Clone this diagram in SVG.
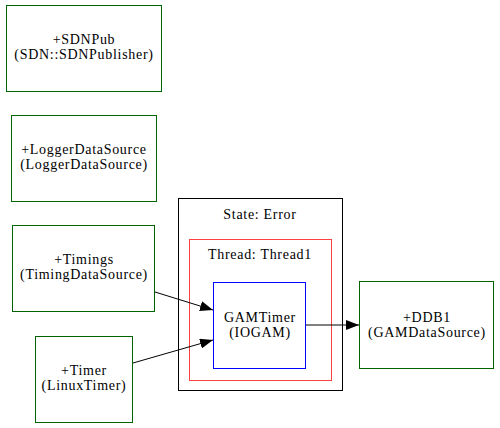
<svg xmlns="http://www.w3.org/2000/svg" width="500" height="428" viewBox="0 0 500 428">
<defs>
<marker id="ah" markerWidth="13" markerHeight="10" refX="13" refY="5" orient="auto" markerUnits="userSpaceOnUse" viewBox="0 0 13 10">
<polygon points="0,0 13,5 0,10" fill="#000"/>
</marker>
</defs>
<style>
.n{fill:none;stroke:#006400;stroke-width:1}
.c{fill:none;stroke-width:1}
.e{fill:none;stroke:#000;stroke-width:1;marker-end:url(#ah)}
</style>
<rect width="500" height="428" fill="#fff"/>
<g font-family="Liberation Serif, Times New Roman, serif" font-size="14" text-anchor="middle" fill="#000" letter-spacing="0.7">
<g id="state">
<rect class="c" x="178.5" y="198.5" width="164" height="192" stroke="#000"/>
<text x="260" y="219">State: Error</text>
</g>
<g id="thread">
<rect class="c" x="189.5" y="239.5" width="142" height="141" stroke="#ff4040"/>
<text x="260" y="259">Thread: Thread1</text>
</g>
<g id="SDNPub">
<rect class="n" x="6.5" y="5.5" width="155" height="86"/>
<text x="84" y="44">+SDNPub</text>
<text x="84" y="59">(SDN::SDNPublisher)</text>
</g>
<g id="LoggerDataSource">
<rect class="n" x="11.5" y="115.5" width="145" height="86"/>
<text x="84" y="154">+LoggerDataSource</text>
<text x="84" y="169">(LoggerDataSource)</text>
</g>
<g id="Timings">
<rect class="n" x="12.5" y="225.5" width="142" height="86"/>
<text x="84" y="264">+Timings</text>
<text x="84" y="279">(TimingDataSource)</text>
</g>
<g id="Timer">
<rect class="n" x="35.5" y="336.5" width="97" height="86"/>
<text x="84" y="375">+Timer</text>
<text x="84" y="390">(LinuxTimer)</text>
</g>
<g id="GAMTimer">
<rect class="c" x="213.5" y="282.5" width="92" height="86" stroke="#0000ff"/>
<text x="260" y="322">GAMTimer</text>
<text x="260" y="337">(IOGAM)</text>
</g>
<g id="DDB1">
<rect class="n" x="359.5" y="281.5" width="134" height="87"/>
<text x="427" y="322">+DDB1</text>
<text x="427" y="337">(GAMDataSource)</text>
</g>
</g>
<g id="edges">
<line class="e" x1="155" y1="292" x2="213" y2="310"/>
<line class="e" x1="133" y1="363" x2="213" y2="340"/>
<line class="e" x1="306" y1="325" x2="359" y2="325"/>
</g>
</svg>
